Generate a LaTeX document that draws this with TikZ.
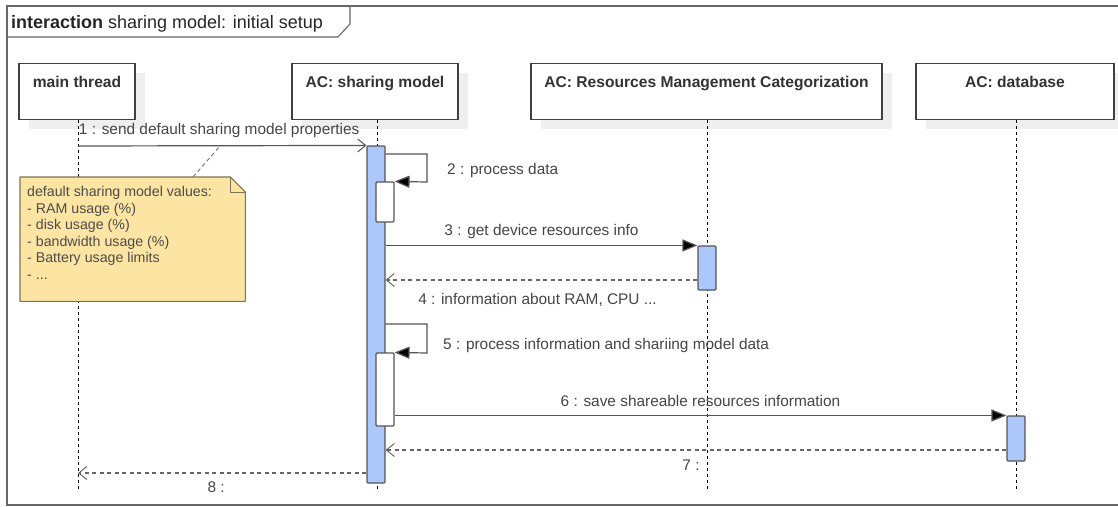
\documentclass[tikz,border=0pt]{standalone}
\usepackage{fontspec}
\setmainfont{Liberation Sans}
\usetikzlibrary{arrows.meta,shadows}

\definecolor{lineC}{HTML}{555555}
\definecolor{txtC}{HTML}{454545}
\definecolor{actC}{HTML}{ABC7FB}
\definecolor{noteC}{HTML}{FCE4A2}
\definecolor{noteLine}{HTML}{7D7355}
\definecolor{shadeC}{HTML}{EFEFEF}

\tikzset{
  frameline/.style={draw=black!60, line width=1.1pt},
  headbox/.style={draw=black!75, fill=white, line width=1.1pt, rectangle,
    inner sep=0pt, minimum height=56pt, text height=23.5pt, text depth=32.5pt,
    font=\fontsize{15.6}{18}\selectfont\bfseries, text=black!80,
    general shadow={fill=shadeC, shadow xshift=10pt, shadow yshift=-9pt}},
  lifeline/.style={draw=black, line width=0.9pt, dash pattern=on 3pt off 3pt},
  actbox/.style={draw=lineC, fill=actC, line width=1.1pt, rectangle,
    rounded corners=1pt, inner sep=0pt, minimum width=18pt},
  nestbox/.style={actbox, fill=white},
  callmsg/.style={draw=lineC, line width=1.2pt, -{Triangle[length=15pt,width=12pt,fill=black]}},
  asyncmsg/.style={draw=lineC, line width=1.2pt, -{Straight Barb[length=8pt,width=13pt,line width=1pt]}},
  replymsg/.style={draw=lineC!90, line width=1.2pt, dash pattern=on 4pt off 3.5pt,
    -{Straight Barb[length=8pt,width=13pt,line width=1pt,sep=0pt]}},
  msglabel/.style={font=\fontsize{15.4}{18}\selectfont, text=txtC, inner sep=0pt},
  above by/.style={anchor=base, yshift=#1},
  below by/.style={anchor=base, yshift=-#1},
}

\begin{document}
\begin{tikzpicture}[x=1pt,y=-1pt]
\useasboundingbox (0,0) rectangle (1118,506);
\clip (0,0) rectangle (1118,506);

% diagram frame and its title tab
\draw[frameline] (1130,6) -- (7,6) -- (7,505) -- (1130,505);
\draw[frameline] (7,37) -- (338,37) -- (350,24) -- (350,6);
\node[anchor=base west, inner sep=0pt, font=\fontsize{18}{20}\selectfont, text=black!85]
  (title) at (11,28.5) {\textbf{interaction} sharing model: initial setup};

% lifeline heads
\node[headbox, minimum width=116pt, anchor=north] (main) at (77,63) {main thread};
\node[headbox, minimum width=166pt, anchor=north] (share) at (375,63) {AC: sharing model};
\node[headbox, minimum width=351pt, anchor=north] (res) at (706.5,63) {AC: Resources Management Categorization};
\node[headbox, minimum width=198pt, anchor=north] (db) at (1015,63) {AC: database};

% lifelines
\coordinate (mainEnd) at (78,490);
\coordinate (shareEnd) at (377,490);
\coordinate (resEnd) at (707,490);
\coordinate (dbEnd) at (1016,490);
\draw[lifeline] (main.south -| mainEnd) -- (mainEnd);
\draw[lifeline] (share.south -| shareEnd) -- (shareEnd);
\draw[lifeline] (res.south -| resEnd) -- (resEnd);
\draw[lifeline] (db.south -| dbEnd) -- (dbEnd);

% activation bars
\node[actbox, minimum height=337pt] (sa) at (376,314.5) {};
\node[nestbox, minimum height=40pt] (na) at (385,202) {};
\node[actbox, minimum height=44pt] (ra) at (707,268) {};
\node[nestbox, minimum height=73pt] (nb) at (385,389.5) {};
\node[actbox, minimum height=45pt] (da) at (1016,438.5) {};

% 1: main thread -> sharing model
\coordinate (m1s) at (78,146);
\draw[asyncmsg] (m1s) -- node[msglabel, above by=11pt, xshift=-3pt] (l1) {1 : send default sharing model properties} (sa.north west);

% 2: self call
\coordinate (m2a) at (427,154);
\coordinate (m2b) at (427,182);
\draw[callmsg] (sa.east |- m2a) -- (m2a) -- (m2b) -- (na.north east);
\node[msglabel, anchor=base west] (l2) at (447,174) {2 : process data};

% 3: sharing model -> resources management
\draw[callmsg] (sa.east |- ra.north) -- node[msglabel, above by=10pt] (l3) {3 : get device resources info} (ra.north west);

% 4: reply
\coordinate (m4) at (697,280);
\draw[replymsg] (ra.west |- m4) -- node[msglabel, below by=24pt, xshift=-4pt] (l4) {4 : information about RAM, CPU ...} (sa.east |- m4);

% 5: self call
\coordinate (m5a) at (427,324);
\coordinate (m5b) at (427,353);
\draw[callmsg] (sa.east |- m5a) -- (m5a) -- (m5b) -- (nb.north east);
\node[msglabel, anchor=base west] (l5) at (443,349) {5 : process information and shariing model data};

% 6: sharing model -> database
\draw[callmsg] (nb.east |- da.north) -- node[msglabel, above by=9pt] (l6) {6 : save shareable resources information} (da.north west);

% 7: reply from database
\coordinate (m7) at (1007,450);
\draw[replymsg] (da.west |- m7) -- node[msglabel, below by=20pt, xshift=-5pt] (l7) {7 :} (sa.east |- m7);

% 8: reply to main thread
\coordinate (m8) at (367,473);
\draw[replymsg] (sa.west |- m8) -- node[msglabel, below by=19pt, xshift=-6pt] (l8) {8 :} (m8 -| mainEnd);

% note with folded corner
\node[minimum width=225pt, minimum height=124pt, inner sep=0pt, anchor=north west] (note) at (20,177) {};
\draw[draw=noteLine, fill=noteC, line width=1.1pt, line join=round]
  (note.north west) -- ([xshift=-15pt]note.north east) -- ([yshift=-15pt]note.north east)
  -- (note.south east) -- (note.south west) -- cycle;
\draw[draw=noteLine, line width=1pt, line join=round]
  ([xshift=-15pt]note.north east) -- ([xshift=-15pt,yshift=-15pt]note.north east) -- ([yshift=-15pt]note.north east);
\node[anchor=north west, align=left, inner sep=0pt, text=black!70,
  font=\fontsize{14.2}{16.5}\selectfont] (notetext) at (27,186.5)
  {default sharing model values:\\- RAM usage (\%)\\- disk usage (\%)\\- bandwidth usage (\%)\\- Battery usage limits\\- ...};
\coordinate (noteHook) at (220,146);
\draw[draw=black!55, line width=0.9pt, dash pattern=on 4pt off 3pt] ([xshift=173pt]note.north west) -- (noteHook);

\end{tikzpicture}
\end{document}
